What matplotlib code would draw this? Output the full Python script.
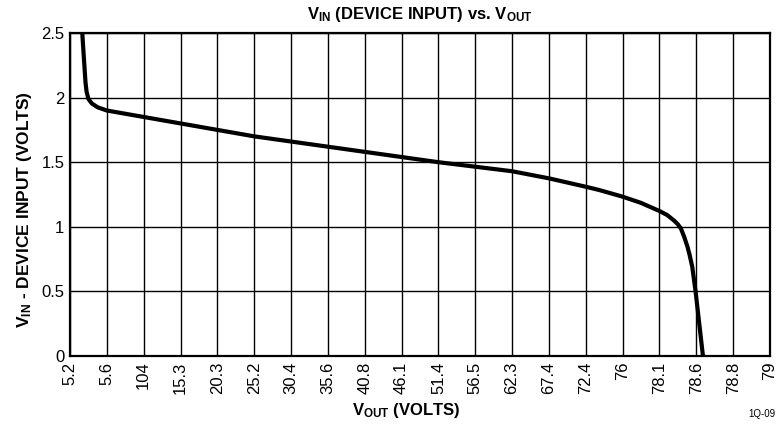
import matplotlib
matplotlib.use("Agg")
import matplotlib.pyplot as plt

plt.rcParams['font.family'] = ['Liberation Sans', 'DejaVu Sans']
plt.rcParams['mathtext.fontset'] = 'custom'
plt.rcParams['mathtext.rm'] = 'Liberation Sans'
plt.rcParams['mathtext.bf'] = 'Liberation Sans:bold'
plt.rcParams['mathtext.it'] = 'Liberation Sans:italic'

# Category tick labels (V_OUT, volts) - equally spaced on the chart
vout_labels = ["5.2", "5.6", "104", "15.3", "20.3", "25.2", "30.4", "35.6", "40.8",
               "46.1", "51.4", "56.5", "62.3", "67.4", "72.4", "76", "78.1", "78.6",
               "78.8", "79"]
vin_ticks = [0, 0.5, 1, 1.5, 2, 2.5]
vin_tick_labels = ["0", "0.5", "1", "1.5", "2", "2.5"]

# Curve: position along the category axis (tick index units) and V_IN values
curve_pos = [0.333, 0.36, 0.39, 0.42, 0.45, 0.50, 0.59, 0.75, 1.0, 2.0, 3.0, 4.0,
             5.0, 6.0, 7.0, 8.0, 9.0, 10.0, 11.0, 12.0, 13.0, 14.0, 14.36, 15.0,
             15.5, 16.0, 16.21, 16.4, 16.49, 16.58, 16.67, 16.76, 16.82, 16.89,
             16.98, 17.18]
curve_vin = [2.5, 2.38, 2.25, 2.12, 2.045, 1.99, 1.955, 1.925, 1.90, 1.85, 1.80, 1.75,
             1.70, 1.66, 1.62, 1.58, 1.54, 1.50, 1.465, 1.43, 1.375, 1.31, 1.285, 1.233,
             1.185, 1.122, 1.091, 1.047, 1.022, 0.988, 0.923, 0.846, 0.78, 0.69,
             0.50, 0.0]

W, H = 779, 428
fig = plt.figure(figsize=(W / 100, H / 100), dpi=100)
ax = fig.add_axes([70 / W, (H - 356) / H, 700 / W, 323 / H])

ax.plot(curve_pos, curve_vin, color='black', linewidth=3, solid_capstyle='butt',
        solid_joinstyle='round', zorder=3)

ax.set_xlim(0, len(vout_labels) - 1)
ax.set_ylim(0, 2.5)
ax.set_xticks(range(len(vout_labels)))
ax.set_xticklabels(vout_labels, rotation=90, fontsize=12)
ax.set_yticks(vin_ticks)
ax.set_yticklabels(vin_tick_labels, fontsize=12)
ax.tick_params(axis='both', length=0, pad=4)
ax.grid(True, color='black', linewidth=1.0)
ax.set_axisbelow(True)
for s in ax.spines.values():
    s.set_linewidth(1.6)
    s.set_color('black')

fig.text(420 / W, 1 - 15 / H, r'$\mathbf{V_{IN}}$ (DEVICE INPUT) vs. $\mathbf{V_{OUT}}$',
         ha='center', va='center', fontsize=12, fontweight='bold')
fig.text(406 / W, 1 - 411 / H, r'$\mathbf{V_{OUT}}$ (VOLTS)',
         ha='center', va='center', fontsize=12, fontweight='bold')
fig.text(25 / W, 1 - 210 / H, r'$\mathbf{V_{IN}}$ - DEVICE INPUT (VOLTS)',
         ha='center', va='center', rotation=90, fontsize=12.5, fontweight='bold')
fig.text(762 / W, 1 - 414 / H, '1Q-09', ha='center', va='center', fontsize=7)

fig.savefig('out.png', dpi=100)
